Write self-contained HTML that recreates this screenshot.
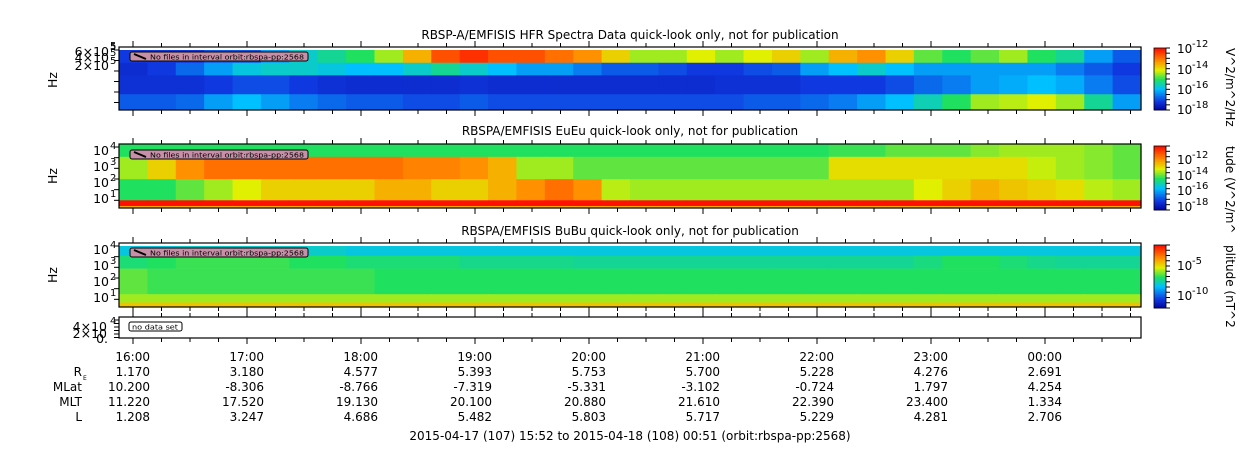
<!DOCTYPE html>
<html><head><meta charset="utf-8">
<style>
body{margin:0;background:#fff;}
svg{display:block;font-family:"DejaVu Sans","Liberation Sans",sans-serif;}
</style></head>
<body>
<svg id="c" width="1250" height="449" xmlns="http://www.w3.org/2000/svg"></svg>
<script>
const hours=["16:00","17:00","18:00","19:00","20:00","21:00","22:00","23:00","00:00"];
const rowNames=["R","MLat","MLT","L"];
const reVals=["1.170","3.180","4.577","5.393","5.753","5.700","5.228","4.276","2.691"];
const mlatVals=["10.200","-8.306","-8.766","-7.319","-5.331","-3.102","-0.724","1.797","4.254"];
const mltVals=["11.220","17.520","19.130","20.100","20.880","21.610","22.390","23.400","1.334"];
const lVals=["1.208","3.247","4.686","5.482","5.803","5.717","5.229","4.281","2.706"];
// spectral intensity (0..1 colormap index) per 15-min segment, per frequency band
const hfrB1=[0.15,0.15,0.15,0.2,0.2,0.3,0.4,0.45,0.5,0.6,0.75,0.9,0.95,0.9,0.9,0.85,0.8,0.7,0.6,0.6,0.65,0.6,0.65,0.7,0.6,0.75,0.8,0.7,0.55,0.5,0.55,0.6,0.5,0.45,0.3,0.2];
const hfrB2=[0.12,0.15,0.22,0.3,0.38,0.4,0.4,0.38,0.35,0.35,0.4,0.45,0.4,0.35,0.3,0.3,0.25,0.2,0.2,0.18,0.15,0.15,0.18,0.2,0.3,0.35,0.4,0.35,0.3,0.3,0.3,0.3,0.3,0.25,0.2,0.15];
const hfrB3=[0.13,0.13,0.13,0.15,0.18,0.18,0.15,0.13,0.12,0.12,0.12,0.12,0.13,0.12,0.12,0.12,0.12,0.12,0.12,0.12,0.12,0.13,0.13,0.13,0.15,0.15,0.15,0.18,0.22,0.25,0.3,0.32,0.35,0.32,0.25,0.18];
const hfrB4=[0.2,0.2,0.22,0.3,0.35,0.3,0.25,0.22,0.2,0.2,0.18,0.18,0.2,0.18,0.18,0.18,0.18,0.18,0.18,0.18,0.18,0.18,0.2,0.2,0.22,0.25,0.3,0.35,0.42,0.5,0.6,0.62,0.65,0.6,0.45,0.3];
const euB1=[0.5,0.5,0.5,0.5,0.5,0.5,0.5,0.5,0.5,0.5,0.5,0.5,0.5,0.5,0.5,0.5,0.5,0.5,0.5,0.5,0.5,0.5,0.5,0.5,0.5,0.52,0.52,0.55,0.55,0.55,0.58,0.6,0.6,0.6,0.58,0.55];
const euB2=[0.6,0.7,0.8,0.85,0.85,0.85,0.85,0.85,0.85,0.85,0.82,0.82,0.8,0.75,0.6,0.6,0.55,0.55,0.55,0.55,0.55,0.55,0.55,0.55,0.55,0.68,0.68,0.68,0.68,0.68,0.68,0.68,0.63,0.6,0.58,0.55];
const euB3=[0.5,0.5,0.55,0.6,0.65,0.7,0.7,0.7,0.7,0.75,0.75,0.7,0.7,0.75,0.8,0.85,0.8,0.62,0.6,0.6,0.6,0.6,0.6,0.6,0.6,0.6,0.6,0.6,0.65,0.7,0.75,0.72,0.7,0.68,0.62,0.6];
const buB1=[0.38,0.38,0.4,0.4,0.4,0.4,0.4,0.4,0.38,0.38,0.38,0.38,0.38,0.38,0.38,0.38,0.38,0.38,0.38,0.38,0.38,0.38,0.38,0.38,0.38,0.38,0.38,0.38,0.38,0.38,0.38,0.38,0.38,0.38,0.38,0.38];
const buB2=[0.48,0.5,0.52,0.52,0.52,0.52,0.5,0.5,0.48,0.48,0.48,0.48,0.46,0.46,0.46,0.46,0.45,0.45,0.45,0.45,0.45,0.45,0.45,0.45,0.45,0.45,0.45,0.45,0.47,0.5,0.5,0.48,0.46,0.45,0.45,0.45];
const buB3=[0.55,0.52,0.52,0.52,0.52,0.52,0.52,0.52,0.52,0.5,0.5,0.5,0.5,0.5,0.5,0.5,0.5,0.5,0.5,0.5,0.5,0.5,0.5,0.5,0.5,0.5,0.5,0.5,0.5,0.5,0.5,0.5,0.5,0.5,0.5,0.5];

const S=document.getElementById('c');
const NS="http://www.w3.org/2000/svg";
function mk(t,a,p){const e=document.createElementNS(NS,t);for(const k in a)e.setAttribute(k,a[k]);(p||S).appendChild(e);return e;}
const X0=119,X1=1141;
const xOfHour=h=>133+h*114; // 16:00 = hour 0
const stops=[[0,[0,0,150]],[0.15,[16,56,224]],[0.35,[0,192,255]],[0.5,[32,224,96]],[0.65,[224,240,0]],[0.8,[255,144,0]],[1,[255,16,0]]];
function cmap(v){for(let i=1;i<stops.length;i++){if(v<=stops[i][0]){const a=stops[i-1],b=stops[i],t=(v-a[0])/(b[0]-a[0]);const c=a[1].map((q,j)=>Math.round(q+(b[1][j]-q)*t));return `rgb(${c})`;}}return 'rgb(255,16,0)';}
const segW=(X1-X0)/36;
function spec(name,top,h,bands){
  const g=mk('g',{});
  
  
  bands.forEach(([arr,f0,f1])=>{
    arr.forEach((v,i)=>{
      const r=mk('rect',{x:X0+i*segW,y:top+f0*h,width:segW+0.6,height:(f1-f0)*h+0.3,fill:cmap(v)},g);
      
      
    });
  });
  return g;
}
function frame(top,h,name){
  const r=mk('rect',{x:X0,y:top,width:X1-X0,height:h,fill:'none',stroke:'#000','stroke-width':1.2});
  
  
  for(let q=-1;q<=35;q++){
    const x=xOfHour(q/4);if(x<X0||x>X1)continue;
    const L=q%4===0?6:4;
    mk('line',{x1:x,x2:x,y1:top+h,y2:top+h+L,stroke:'#000'});
    mk('line',{x1:x,x2:x,y1:top,y2:top-L,stroke:'#000'});
  }
}
function text(s,x,y,opt){const t=mk('text',Object.assign({x:x,y:y,'font-size':12,fill:'#000'},opt||{}));t.textContent=s;return t;}
function label(name,x,y){
  const g=mk('g',{});
  
  
  const isNo=name==='no-data-label';
  const w=isNo?53:178;
  mk('rect',{x:x,y:y,width:w,height:9,rx:2,fill:isNo?'#fff':'#c890a8',stroke:'#000'},g);
  if(!isNo)mk('line',{x1:x+4,y1:y+2,x2:x+16,y2:y+7,stroke:'#000','stroke-width':2},g);
  const t=mk('text',{x:x+(isNo?3:20),y:y+7.5,'font-size':7,fill:'#000',textLength:isNo?46:154,lengthAdjust:'spacingAndGlyphs'},g);
  t.textContent=isNo?'no data set':'No files in interval orbit:rbspa-pp:2568';
}
// titles
text("RBSP-A/EMFISIS  HFR Spectra Data quick-look only, not for publication",630,39,{'text-anchor':'middle'});
text("RBSPA/EMFISIS  EuEu quick-look only, not for publication",630,135,{'text-anchor':'middle'});
text("RBSPA/EMFISIS  BuBu quick-look only, not for publication",630,235,{'text-anchor':'middle'});

// panel 1
spec('hfr-spectrogram',47,63,[[hfrB1,0,0.25],[hfrB2,0.25,0.45],[hfrB3,0.45,0.75],[hfrB4,0.75,1]]);
mk('rect',{x:X0,y:47,width:X1-X0,height:3,fill:'#fff'});
frame(47,63,'hfr-panel');
label('hfr-no-files-label',130,52);
// panel 2
spec('eueu-spectrogram',144,64,[[euB1,0,0.2],[euB2,0.2,0.55],[euB3,0.55,0.88],[euB1.map(()=>1),0.88,0.97],[euB1.map(()=>0.75),0.97,1]]);
frame(144,64,'eueu-panel');
label('eueu-no-files-label',130,150);
// panel 3
spec('bubu-spectrogram',243,64,[[buB1,0,0.05],[buB1,0.05,0.2],[buB2,0.2,0.4],[buB3,0.4,0.8],[buB1.map(()=>0.6),0.8,0.93],[buB1.map(()=>0.72),0.93,1]]);
mk('rect',{x:X0,y:243,width:X1-X0,height:3,fill:'#fff'});
frame(243,64,'bubu-panel');
label('bubu-no-files-label',130,248);
// panel 4
frame(317,21,'empty-panel');
label('no-data-label',129,322);

// y axes
function yax(labels,name){
  labels.forEach(([s,sup,y])=>{
    const t=text(s,109,y,{'text-anchor':'end','font-size':12.5});
    
    if(sup){const ts=text(sup,110,y-6,{'font-size':10});}
  });
}
yax([["6×10","5",56],["4×10","5",62],["2×10","5",70]],'hfr-y');
text("5",110,49,{'font-size':10});
yax([["10","4",155],["10","3",171],["10","2",187],["10","1",203]],'eueu-y');
yax([["10","4",254],["10","3",270],["10","2",286],["10","1",302]],'bubu-y');
text("4×10",107,331,{'text-anchor':'end','font-size':12.5});text("2×10",107,338,{'text-anchor':'end','font-size':12.5});text("0.",108,343,{'text-anchor':'end','font-size':12.5});
text("4",110,324,{'font-size':10});
[[47,63],[144,64],[243,64],[317,21]].forEach(([t,h])=>{for(let k=0;k<6;k++)mk('line',{x1:X0-5,x2:X0,y1:t+3+k*h/6,y2:t+3+k*h/6,stroke:'#000'});});
[80,176,275].forEach(y=>{const t=text("Hz",57,y,{'text-anchor':'middle','font-size':12.5,transform:`rotate(-90 57 ${y})`});});

// colorbars
function cbar(top,h,ticks,title,name){
  const g=mk('g',{});
  
  
  for(let i=0;i<40;i++){mk('rect',{x:1154,y:top+i*h/40,width:12,height:h/40+0.5,fill:cmap(1-i/40)},g);}
  mk('rect',{x:1154,y:top,width:12,height:h,fill:'none',stroke:'#000','stroke-width':0.8},g);
  for(let k=0;k<=12;k++)mk('line',{x1:1166,x2:1170,y1:top+k*h/12,y2:top+k*h/12,stroke:'#000'},g);
  ticks.forEach(([e,y])=>{text("10",1177,y,{'font-size':12});text(e,1192,y-6,{'font-size':10});});
  const tt=text(title,1226,top,{transform:`rotate(90 1226 ${top})`,'font-size':12});
  
}
cbar(48,62,[["-12",53],["-14",74],["-16",94],["-18",114]],"V^2/m^2/Hz",'hfr-colorbar');
cbar(146,64,[["-12",164],["-14",180],["-16",195],["-18",211]],"tude (V^2/m^",'eueu-colorbar');
cbar(245,63,[["-5",270],["-10",300]],"plitude (nT^2",'bubu-colorbar');

// time axis & ephemeris
const rows=[reVals,mlatVals,mltVals,lVals];
hours.forEach((h,i)=>{const t=text(h,xOfHour(i)+17,361,{'text-anchor':'end'});});
rowNames.forEach((n,r)=>{
  const y=376+r*15;
  const t=text(n,82,y,{'text-anchor':'end'});
  if(n==="R"){text("E",83,y+4,{'font-size':6});}
  rows[r].forEach((v,i)=>{text(v,xOfHour(i)+17,y,{'text-anchor':'end'});});
});
text("2015-04-17 (107) 15:52 to 2015-04-18 (108) 00:51 (orbit:rbspa-pp:2568)",630,440,{'text-anchor':'middle'});
</script>
</body></html>
